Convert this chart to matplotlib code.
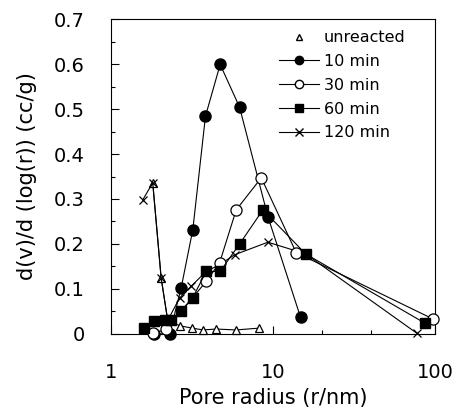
import matplotlib
matplotlib.use("Agg")
import matplotlib.pyplot as plt
from matplotlib.lines import Line2D
from matplotlib.ticker import FixedLocator, NullFormatter

plt.rcParams['font.family'] = ['DejaVu Sans']

# data
r_unr = [1.81, 2.04, 2.24, 2.68, 3.18, 3.7, 4.46, 5.9, 8.2]
v_unr = [0.336, 0.125, 0.03, 0.018, 0.013, 0.009, 0.011, 0.009, 0.013]

r10 = [1.85, 2.3, 2.71, 3.2, 3.83, 4.72, 6.22, 9.3, 14.8]
v10 = [0.0, 0.0, 0.102, 0.232, 0.484, 0.599, 0.504, 0.261, 0.037]

r30 = [1.81, 2.2, 3.87, 4.68, 5.93, 8.47, 13.9, 97.6]
v30 = [0.002, 0.01, 0.117, 0.158, 0.276, 0.347, 0.181, 0.033]

r60 = [1.61, 1.85, 2.14, 2.35, 2.71, 3.2, 3.87, 4.72, 6.22, 8.67, 15.9, 86.7]
v60 = [0.013, 0.028, 0.032, 0.032, 0.052, 0.081, 0.139, 0.139, 0.2, 0.276, 0.178, 0.024]

r120 = [1.57, 1.81, 2.04, 2.24, 2.65, 3.12, 3.87, 4.68, 5.79, 9.3, 15.9, 77.0]
v120 = [0.298, 0.336, 0.124, 0.03, 0.08, 0.106, 0.139, 0.154, 0.176, 0.204, 0.178, 0.002]

labels = ["unreacted", "10 min", "30 min", "60 min", "120 min"]
xticks = [1, 10, 100]
xtick_labels = ["1", "10", "100"]
yticks = [0, 0.1, 0.2, 0.3, 0.4, 0.5, 0.6, 0.7]
ytick_labels = ["0", "0.1", "0.2", "0.3", "0.4", "0.5", "0.6", "0.7"]

fig = plt.figure(figsize=(4.59, 4.08), dpi=100)
ax = fig.add_axes([0.2418, 0.1814, 0.7059, 0.772])

lw = 0.8
ax.plot(r_unr, v_unr, color='black', lw=lw, marker='^', ms=6, mfc='white',
        mec='black', mew=0.9, zorder=3, clip_on=False)
ax.plot(r10, v10, color='black', lw=lw, marker='o', ms=8, mfc='black',
        mec='black', zorder=4, clip_on=False)
ax.plot(r30, v30, color='black', lw=lw, marker='o', ms=8, mfc='white',
        mec='black', mew=0.9, zorder=4, clip_on=False)
ax.plot(r60, v60, color='black', lw=lw, marker='s', ms=7.5, mfc='black',
        mec='black', zorder=5, clip_on=False)
ax.plot(r120, v120, color='black', lw=lw, marker='x', ms=6, mec='black',
        mew=0.9, zorder=3, clip_on=False)

handles = [
    Line2D([], [], color='black', lw=0, marker='^', ms=5, mfc='white', mec='black'),
    Line2D([], [], color='black', lw=lw, marker='o', ms=6, mfc='black', mec='black'),
    Line2D([], [], color='black', lw=lw, marker='o', ms=6, mfc='white', mec='black'),
    Line2D([], [], color='black', lw=lw, marker='s', ms=6, mfc='black', mec='black'),
    Line2D([], [], color='black', lw=lw, marker='x', ms=6, mec='black'),
]
ax.legend(handles, labels, loc='upper left', bbox_to_anchor=(0.49, 0.995),
          frameon=False, fontsize=11.5, handlelength=2.5, handletextpad=0.3,
          labelspacing=0.55, borderaxespad=0.2)

ax.set_xscale('log')
ax.set_xlim(1, 100)
ax.set_ylim(0, 0.7)
ax.set_xticks(xticks)
ax.set_xticklabels(xtick_labels)
ax.xaxis.set_minor_locator(FixedLocator([20, 40]))
ax.xaxis.set_minor_formatter(NullFormatter())
ax.set_yticks(yticks)
ax.set_yticklabels(ytick_labels)
ax.yaxis.set_minor_locator(FixedLocator([0.05, 0.15, 0.25, 0.35, 0.45, 0.55, 0.65]))

ax.tick_params(which='both', direction='in', labelsize=14, width=0.8)
ax.tick_params(which='major', length=6)
ax.tick_params(which='minor', length=3)
ax.tick_params(axis='x', pad=21)
ax.tick_params(axis='y', pad=19)
for s in ax.spines.values():
    s.set_linewidth(0.8)

ax.set_xlabel("Pore radius (r/nm)", fontsize=15, labelpad=4)
ax.set_ylabel("d(v)/d (log(r)) (cc/g)", fontsize=15, labelpad=12)

fig.savefig("out.png", dpi=100)
